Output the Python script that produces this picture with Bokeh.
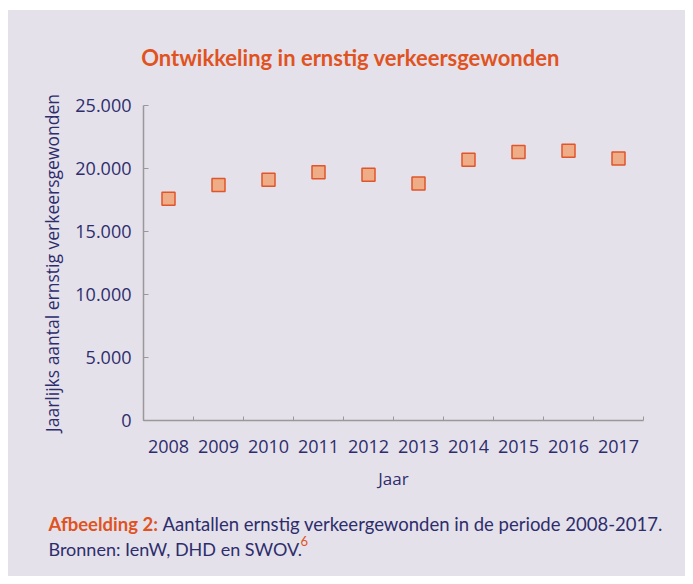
from bokeh.plotting import figure
from bokeh.models import FixedTicker, CustomJSTickFormatter, Label, Range1d, Spacer
from bokeh.layouts import column, row
from bokeh.embed import file_html
from bokeh.resources import INLINE

years = [2008, 2009, 2010, 2011, 2012, 2013, 2014, 2015, 2016, 2017]
gewonden = [17600, 18700, 19100, 19700, 19500, 18800, 20700, 21300, 21400, 20800]
y_ticks = [0, 5000, 10000, 15000, 20000, 25000]

BG = "#E4E1EB"
NAVY = "#2E2D6C"
ORANGE = "#E0531F"
FONT = "Lato"
AXFONT = "Open Sans"
W = 677


def blank(h):
    f = figure(width=W, height=h, output_backend="svg", toolbar_location=None,
               x_range=Range1d(0, W), y_range=Range1d(0, h), min_border=0,
               frame_align=False)
    f.background_fill_color = BG
    f.border_fill_color = BG
    f.outline_line_color = None
    f.axis.visible = False
    f.grid.visible = False
    return f


def lab(f, h, text, x, y_top, size, color, style="normal", font=FONT, align="left"):
    f.add_layout(Label(x=x, y=h - y_top, x_units="screen", y_units="screen", text=text,
                       text_font=font, text_font_size=size, text_color=color,
                       text_font_style=style, text_align=align, text_baseline="middle"))


# title
TH = 80
pt = blank(TH)
lab(pt, TH, "Ontwikkeling in ernstig verkeersgewonden", 342, 47, "22px", ORANGE, "bold", align="center")

# main chart
MH = 402
p = figure(width=W, height=MH, output_backend="svg", toolbar_location=None,
           x_range=Range1d(2007.5, 2017.5), y_range=Range1d(0, 25000),
           min_border_left=135, min_border_right=42, min_border_top=15, min_border_bottom=68,
           frame_align=False)
p.background_fill_color = BG
p.border_fill_color = BG
p.outline_line_color = None
p.grid.visible = False

p.scatter(years, gewonden, marker="square", size=13, fill_color="#EEAD87",
          line_color="#E0552A", line_width=1.5)

xa = p.xaxis[0]
xa.ticker = FixedTicker(ticks=years, minor_ticks=[y - 0.5 for y in years] + [2017.5])
xa.major_tick_line_color = None
xa.minor_tick_in = 4
xa.minor_tick_out = 0
xa.minor_tick_line_color = "#999999"
xa.axis_line_color = "#999999"
xa.axis_line_width = 1.5
xa.major_label_text_font = AXFONT
xa.major_label_text_font_size = "18px"
xa.major_label_text_color = NAVY
xa.major_label_standoff = 13
xa.axis_label = "Jaar"
xa.axis_label_text_font = AXFONT
xa.axis_label_text_font_size = "17px"
xa.axis_label_text_font_style = "normal"
xa.axis_label_text_color = NAVY
xa.axis_label_standoff = 11

ya = p.yaxis[0]
ya.ticker = FixedTicker(ticks=y_ticks)
ya.formatter = CustomJSTickFormatter(code="return tick.toFixed(0).replace(/\\B(?=(\\d{3})+(?!\\d))/g, '.');")
ya.major_tick_in = 5
ya.major_tick_out = 0
ya.major_tick_line_color = "#999999"
ya.minor_tick_line_color = None
ya.axis_line_color = "#999999"
ya.axis_line_width = 1.5
ya.major_label_text_font = AXFONT
ya.major_label_text_font_size = "18px"
ya.major_label_text_color = NAVY
ya.major_label_standoff = 12
ya.axis_label = "Jaarlijks aantal ernstig verkeersgewonden"
ya.axis_label_text_font = AXFONT
ya.axis_label_text_font_size = "17.5px"
ya.axis_label_text_font_style = "normal"
ya.axis_label_text_color = NAVY
ya.axis_label_standoff = 8

# caption
CH = 84
pc = blank(CH)
lab(pc, CH, "Afbeelding 2:", 40, 31, "18.5px", ORANGE, "bold")
lab(pc, CH, "Aantallen ernstig verkeergewonden in de periode 2008-2017.", 154, 31, "18.5px", NAVY)
lab(pc, CH, "Bronnen: IenW, DHD en SWOV.", 40, 56, "18px", NAVY)
lab(pc, CH, "6", 292, 48, "13px", ORANGE)

col = column(pt, p, pc, spacing=0, styles={"background-color": BG})
layout = row(Spacer(width=8), column(Spacer(height=10), col, spacing=0), spacing=0)

open("out.html", "w").write(file_html(layout, INLINE))
